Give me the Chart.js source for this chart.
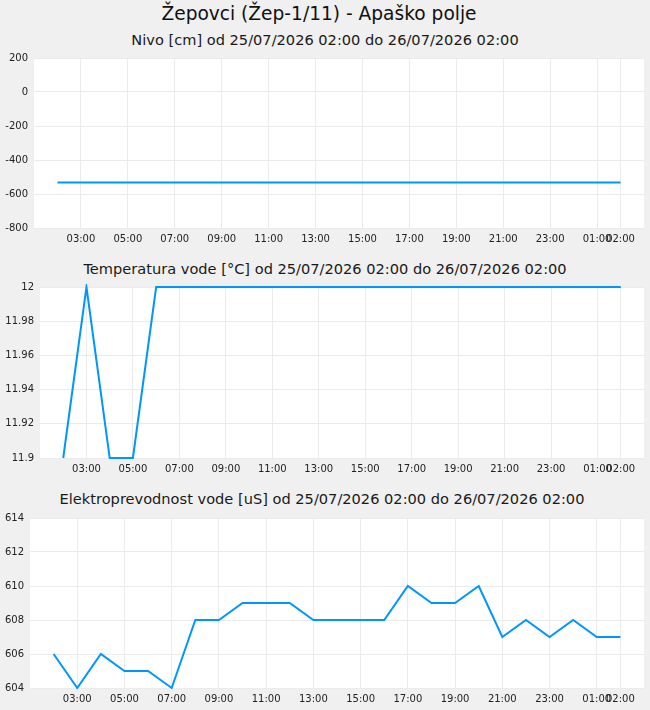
<!DOCTYPE html>
<html>
<head>
<meta charset="utf-8">
<script src="https://cdn.jsdelivr.net/npm/chart.js@4/dist/chart.umd.min.js"></script>
<style>
  body { margin: 0; background: #f0f0f0; width: 650px; height: 710px; overflow: hidden; position: relative; font-family: "DejaVu Sans", sans-serif; }
  .title { position: absolute; left: 0; width: 650px; text-align: center; color: #111; white-space: nowrap; }
  .sub { font-size: 14.6px; line-height: 18px; color: #1a1a1a; }
  canvas { position: absolute; left: 0; }
</style>
</head>
<body>
<div class="title" style="top:4px;left:-6px;font-size:18.6px;line-height:20px">Žepovci (Žep-1/11) - Apaško polje</div>
<div class="title sub" style="top:31px">Nivo [cm] od 25/07/2026 02:00 do 26/07/2026 02:00</div>
<canvas id="nivoChart" style="top:46px" width="650" height="204"></canvas>
<div class="title sub" style="top:260px">Temperatura vode [°C] od 25/07/2026 02:00 do 26/07/2026 02:00</div>
<canvas id="tempChart" style="top:275px" width="650" height="205"></canvas>
<div class="title sub" style="top:490px;left:-3px">Elektroprevodnost vode [uS] od 25/07/2026 02:00 do 26/07/2026 02:00</div>
<canvas id="ecChart" style="top:506px" width="650" height="204"></canvas>
<script>
const hours = ['02:00', '03:00', '04:00', '05:00', '06:00', '07:00', '08:00', '09:00', '10:00', '11:00', '12:00', '13:00',
  '14:00', '15:00', '16:00', '17:00', '18:00', '19:00', '20:00', '21:00', '22:00', '23:00', '00:00', '01:00', '02:00'];
const xTicks = ['03:00', '05:00', '07:00', '09:00', '11:00', '13:00', '15:00', '17:00', '19:00', '21:00', '23:00', '01:00', '02:00'];

const nivo = [-532, -532, -532, -532, -532, -532, -532, -532, -532, -532, -532, -532,
  -532, -532, -532, -532, -532, -532, -532, -532, -532, -532, -532, -532, -532];
const temp = [11.9, 12, 11.9, 11.9, 12, 12, 12, 12, 12, 12, 12, 12,
  12, 12, 12, 12, 12, 12, 12, 12, 12, 12, 12, 12, 12];
const ec = [606, 604, 606, 605, 605, 604, 608, 608, 609, 609, 609, 608,
  608, 608, 608, 610, 609, 609, 610, 607, 608, 607, 608, 607, 607];

const LINE = '#0096ff';
const GRID = '#ebebeb';
const tickFont = { family: 'DejaVu Sans', size: 10 };

const plotBg = {
  id: 'plotBg',
  beforeDraw(chart) {
    const { ctx, chartArea: a } = chart;
    ctx.save();
    ctx.fillStyle = '#fff';
    ctx.fillRect(a.left, a.top, a.width, a.height);
    ctx.restore();
  }
};

// position of a tick label on the hour index (last 02:00 is the next day)
const tickIndex = (t, i) => i === xTicks.length - 1 ? hours.length - 1 : hours.indexOf(t);

function makeChart(id, values, yMin, yMax, step, axisWidth) {
  const ctx = document.getElementById(id).getContext('2d');
  return new Chart(ctx, {
    type: 'line',
    data: {
      datasets: [{
        data: values.map((y, i) => ({ x: i, y })),
        borderColor: LINE,
        borderWidth: 2,
        pointRadius: 0,
        tension: 0,
        fill: false,
        clip: 3
      }]
    },
    options: {
      responsive: false,
      animation: false,
      layout: { padding: { top: 10, right: 6, left: 0, bottom: 0 } },
      plugins: { legend: { display: false }, tooltip: { enabled: false } },
      scales: {
        x: {
          type: 'linear',
          min: -1,
          max: 25,
          afterBuildTicks: s => { s.ticks = xTicks.map((t, i) => ({ value: tickIndex(t, i) })); },
          afterFit: s => { s.height = 22; },
          grid: { color: GRID, drawTicks: false },
          border: { display: false },
          ticks: {
            font: tickFont, color: '#222', padding: 5, maxRotation: 0, autoSkip: false,
            callback: v => hours[v]
          }
        },
        y: {
          min: yMin,
          max: yMax,
          afterFit: s => { s.width = axisWidth; },
          grid: { color: GRID, drawTicks: false },
          border: { display: false },
          ticks: {
            font: tickFont, color: '#222', padding: 6, stepSize: step,
            callback: v => String(+v.toFixed(2))
          }
        }
      }
    },
    plugins: [plotBg]
  });
}

makeChart('nivoChart', nivo, -800, 200, 200, 34);
makeChart('tempChart', temp, 11.9, 12, 0.02, 40);
makeChart('ecChart', ec, 604, 614, 2, 30);
</script>
</body>
</html>
